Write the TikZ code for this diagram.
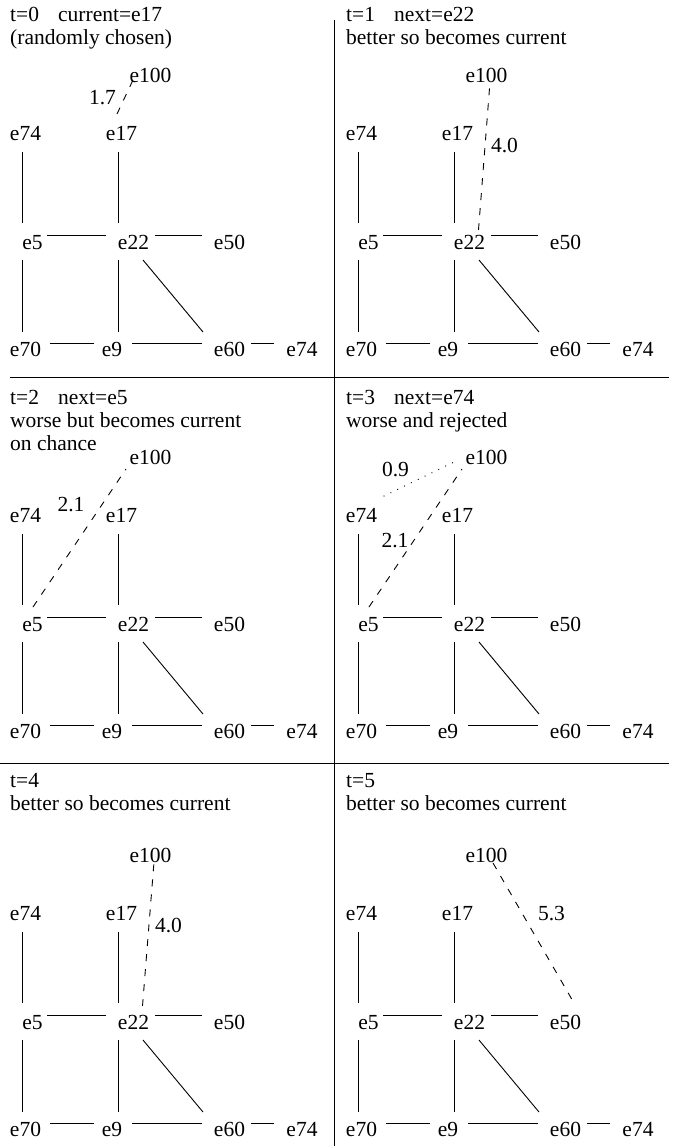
\documentclass[tikz,border=0pt]{standalone}
\usepackage{fontspec}
\setmainfont{Liberation Serif}
\newfontfamily\tnrfont{Liberation Serif}
\begin{document}
\begin{tikzpicture}[x=1pt,y=-1pt,
  lab/.style={inner sep=0pt, anchor=base, font=\tnrfont\fontsize{21.5}{23}\selectfont},
  hdr/.style={inner sep=0pt, anchor=base west, font=\tnrfont\fontsize{21.5}{23}\selectfont},
  edge/.style={line width=0.9pt},
  trial/.style={line width=0.9pt, dash pattern=on 7pt off 8pt},
  rejected/.style={line width=1.3pt, dash pattern=on 0.01pt off 7.6pt, line cap=round},
  frame/.style={line width=1pt}]
\useasboundingbox (0,0) rectangle (673,1146);

\newcommand\basegraph{%
  \node[lab] (e100) at (150.5,82) {e100};
  \node[lab] (e74a) at (25.5,140) {e74};
  \node[lab] (e17) at (121.5,140) {e17};
  \node[lab] (e5) at (32.5,249) {e5};
  \node[lab] (e22) at (133.5,249) {e22};
  \node[lab] (e50) at (229.5,249) {e50};
  \node[lab] (e70) at (25.5,356) {e70};
  \node[lab] (e9) at (112,356) {e9};
  \node[lab] (e60) at (229.5,356) {e60};
  \node[lab] (e74b) at (302,356) {e74};
  \coordinate (e74a-d) at (22,152);  \coordinate (e5-u) at (22,223);
  \coordinate (e17-d) at (118,152);  \coordinate (e22-u) at (118,223);
  \coordinate (e5-r) at (47,235);    \coordinate (e22-l) at (106,235);
  \coordinate (e22-r) at (155,235);  \coordinate (e50-l) at (202,235);
  \coordinate (e5-d) at (22,260);    \coordinate (e70-u) at (22,332);
  \coordinate (e22-d) at (118,260);  \coordinate (e9-u) at (118,332);
  \coordinate (e22-dr) at (143,260); \coordinate (e60-ul) at (203,332);
  \coordinate (e70-r) at (50,343);   \coordinate (e9-l) at (94,343);
  \coordinate (e9-r) at (132,343);   \coordinate (e60-l) at (202,343);
  \coordinate (e60-r) at (251,343);  \coordinate (e74b-l) at (274,343);
  \draw[edge] (e74a-d) -- (e5-u);
  \draw[edge] (e17-d) -- (e22-u);
  \draw[edge] (e5-r) -- (e22-l);
  \draw[edge] (e22-r) -- (e50-l);
  \draw[edge] (e5-d) -- (e70-u);
  \draw[edge] (e22-d) -- (e9-u);
  \draw[edge] (e22-dr) -- (e60-ul);
  \draw[edge] (e70-r) -- (e9-l);
  \draw[edge] (e9-r) -- (e60-l);
  \draw[edge] (e60-r) -- (e74b-l);
}

% frame lines
\coordinate (vtop) at (334,20);   \coordinate (vbot) at (334,1146);
\coordinate (h1l) at (10,377);    \coordinate (h1r) at (669,377);
\coordinate (h2l) at (0,763.5);   \coordinate (h2r) at (669,763.5);
\draw[frame] (vtop) -- (vbot);
\draw[frame] (h1l) -- (h1r);
\draw[frame] (h2l) -- (h2r);

% panel t=0
\begin{scope}
  \node[hdr] (t0a) at (10,21.5) {\makebox[48pt][l]{t=0}current=e17};
  \node[hdr] (t0b) at (10,44.5) {(randomly chosen)};
  \basegraph
  \coordinate (p0s) at (117,114); \coordinate (p0e) at (133,80);
  \draw[trial] (p0s) -- (p0e);
  \node[lab] (w0) at (102.5,104) {1.7};
\end{scope}

% panel t=1
\begin{scope}[shift={(336,0)}]
  \node[hdr] (t1a) at (10,21.5) {\makebox[48pt][l]{t=1}next=e22};
  \node[hdr] (t1b) at (10,44.5) {better so becomes current};
  \basegraph
  \coordinate (p1s) at (142.5,230); \coordinate (p1e) at (154,82);
  \draw[trial] (p1s) -- (p1e);
  \node[lab] (w1) at (168.5,152) {4.0};
\end{scope}

% panel t=2
\begin{scope}[shift={(0,382)}]
  \node[hdr] (t2a) at (10,22.5) {\makebox[48pt][l]{t=2}next=e5};
  \node[hdr] (t2b) at (10,45.5) {worse but becomes current};
  \node[hdr] (t2c) at (10,68.5) {on chance};
  \basegraph
  \coordinate (p2s) at (33,225); \coordinate (p2e) at (126,87);
  \draw[trial] (p2s) -- (p2e);
  \node[lab] (w2) at (71,129) {2.1};
\end{scope}

% panel t=3
\begin{scope}[shift={(336,382)}]
  \node[hdr] (t3a) at (10,22.5) {\makebox[48pt][l]{t=3}next=e74};
  \node[hdr] (t3b) at (10,45.5) {worse and rejected};
  \basegraph
  \coordinate (p3s) at (33,225); \coordinate (p3e) at (126,87);
  \draw[trial] (p3s) -- (p3e);
  \node[lab] (w3) at (59,165) {2.1};
  \coordinate (p3r) at (48,114); \coordinate (p3q) at (118,80);
  \draw[rejected] (p3r) -- (p3q);
  \node[lab] (w3b) at (59.5,94) {0.9};
\end{scope}

% panel t=4
\begin{scope}[shift={(0,780)}]
  \node[hdr] (t4a) at (10,7) {t=4};
  \node[hdr] (t4b) at (10,30) {better so becomes current};
  \basegraph
  \coordinate (p4s) at (142.5,226); \coordinate (p4e) at (154,82);
  \draw[trial] (p4s) -- (p4e);
  \node[lab] (w4) at (168.5,152) {4.0};
\end{scope}

% panel t=5
\begin{scope}[shift={(336,780)}]
  \node[hdr] (t5a) at (10,7) {t=5};
  \node[hdr] (t5b) at (10,30) {better so becomes current};
  \basegraph
  \coordinate (p5s) at (157,83); \coordinate (p5e) at (238,223);
  \draw[trial] (p5s) -- (p5e);
  \node[lab] (w5) at (215.5,140) {5.3};
\end{scope}
\end{tikzpicture}
\end{document}
